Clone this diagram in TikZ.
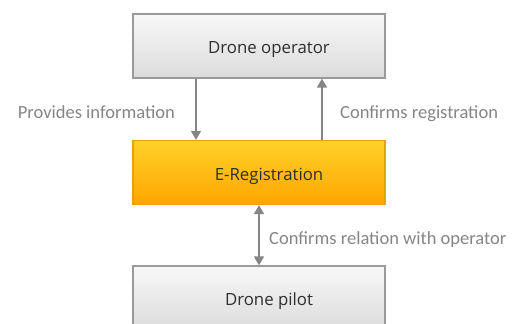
\documentclass[tikz,border=0pt]{standalone}
\usepackage{fontspec}
\setmainfont{Carlito}
\newfontfamily\boxfont{Open Sans}
\usetikzlibrary{arrows.meta}

\definecolor{arrowgray}{HTML}{858585}
\definecolor{boxedge}{HTML}{9A9A9A}
\definecolor{regedge}{HTML}{E3A400}

\tikzset{
  actor/.style={draw=boxedge, line width=1.2pt, top color=white!97!black,
    bottom color=white!86!black, minimum width=252pt, minimum height=64pt,
    font=\boxfont\fontsize{16.8}{19}\selectfont, text=black!82,
    text height=18pt, text depth=3pt,
    execute at begin node=\hspace*{20pt}},
  regbox/.style={actor, draw=regedge, top color={rgb,255:red,255;green,208;blue,42},
    bottom color={rgb,255:red,255;green,166;blue,0}},
  flow/.style={arrowgray, line width=1.5pt, -{Triangle[length=9pt,width=10pt]}},
  twoway/.style={flow, {Triangle[length=9pt,width=10pt]}-{Triangle[length=9pt,width=10pt]}},
  note/.style={text=arrowgray, font=\fontsize{18.5}{20}\selectfont, inner sep=0pt}
}

\begin{document}
\begin{tikzpicture}[x=1pt,y=-1pt]
            \useasboundingbox (0,0) rectangle (515,324);
            \clip (0,0) rectangle (515,324);

            \node[actor] (operator) at (259,46) {Drone operator};
            \node[regbox] (ereg) at (259,172.5) {E-Registration};
            \node[actor] (pilot) at (259,298) {Drone pilot};

            \draw[flow] ([xshift=-63pt]operator.south) -- ([xshift=-63pt]ereg.north);
            \draw[flow] ([xshift=63pt]ereg.north) -- ([xshift=63pt]operator.south);
            \draw[twoway] (ereg.south) -- (pilot.north);

            \node[note, anchor=base east] (provides) at (175,118.5) {Provides information};
            \node[note, anchor=base west] (confirms) at (340,118.5) {Confirms registration};
            \node[note, anchor=base west] (relation) at (269,244) {Confirms relation with operator};
        \end{tikzpicture}
\end{document}
